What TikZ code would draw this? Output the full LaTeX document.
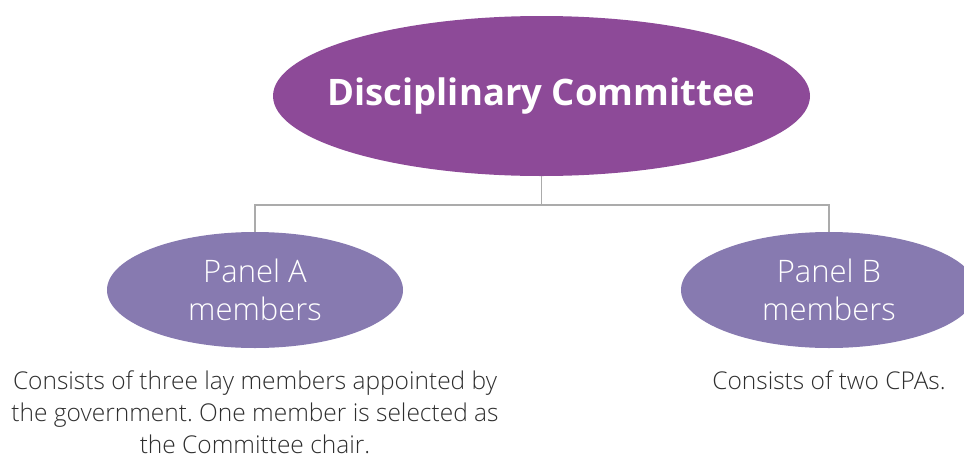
\documentclass[tikz,border=0pt]{standalone}
\usepackage{fontspec}
\setmainfont{Open Sans}
\newfontfamily\lightfont{Open Sans Light}
\usetikzlibrary{shapes.geometric}
\frenchspacing
\definecolor{topfill}{HTML}{8D4A98}
\definecolor{panelfill}{HTML}{877AB0}
\definecolor{linegray}{HTML}{ABABAB}
\definecolor{desctext}{HTML}{2E2E2E}
\tikzset{
  topell/.style={ellipse, fill=topfill, draw=none, inner sep=0pt, minimum width=537pt, minimum height=160pt},
  panelell/.style={ellipse, fill=panelfill, draw=none, inner sep=0pt, minimum width=296pt, minimum height=116pt},
  toptext/.style={text=white, font=\bfseries\fontsize{36.5}{44}\selectfont, inner sep=0pt},
  paneltext/.style={text=white, font=\lightfont\fontsize{31}{38}\selectfont, align=center, inner sep=0pt},
  desc/.style={text=desctext, font=\lightfont\fontsize{24.5}{32}\selectfont, align=center, inner sep=0pt, anchor=north},
  conn/.style={draw=linegray, line width=1.5pt}
}
\begin{document}
\begin{tikzpicture}[x=1pt,y=-1pt]
\useasboundingbox (0,0) rectangle (964,461);
\node[topell] (dc) at (541.5,96) {};
\node[toptext] (dct) at (dc.center) {Disciplinary Committee};
\node[panelell] (pa) at (255,290) {};
\node[paneltext] (pat) at (pa.center) {Panel A\\members};
\node[panelell] (pb) at (829,290) {};
\node[paneltext] (pbt) at (pb.center) {Panel B\\members};
\coordinate (bar) at (541.5,205);
\draw[conn] (dc.south) -- (bar);
\draw[conn] (pa.north) |- (bar) -| (pb.north);
\node[desc] (da) at (255,371) {Consists of three lay members appointed by\\the government. One member is selected as\\the Committee chair.};
\node[desc] (db) at (829,371) {Consists of two CPAs.};
\end{tikzpicture}
\end{document}
